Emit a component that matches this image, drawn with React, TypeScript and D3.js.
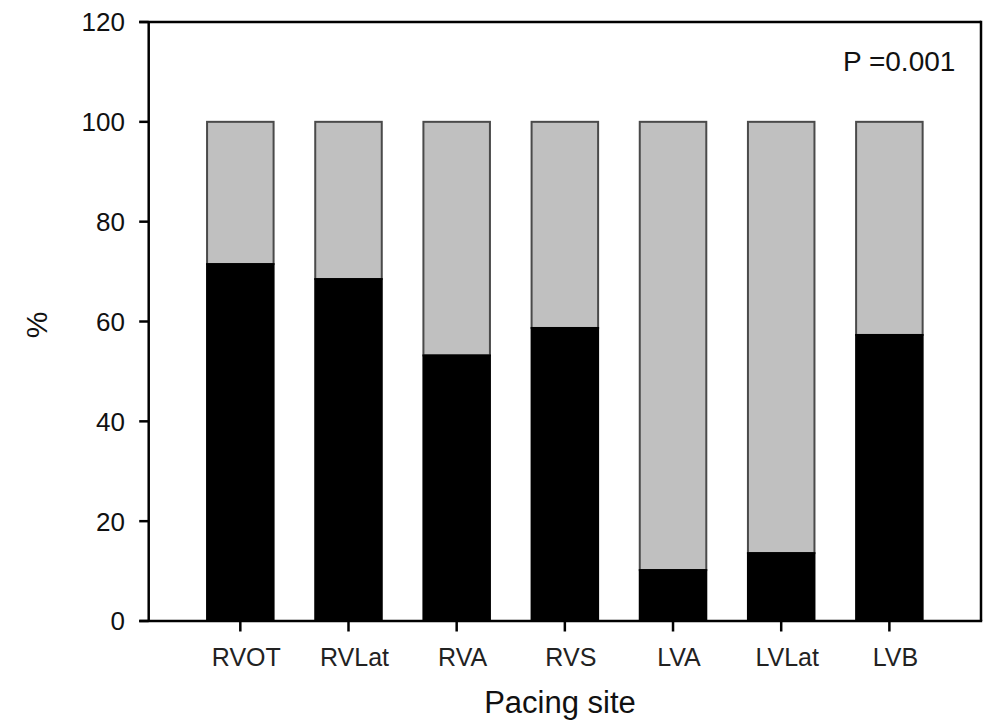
import React from "react";
import * as d3 from "d3";

const categories = ["RVOT", "RVLat", "RVA", "RVS", "LVA", "LVLat", "LVB"];
const blackValues = [71.5, 68.5, 53.2, 58.7, 10.2, 13.6, 57.3];
const totalValues = [100, 100, 100, 100, 100, 100, 100];
const yTicks = [0, 20, 40, 60, 80, 100, 120];
const pText = "P =0.001";
const xTitle = "Pacing site";
const yTitle = "%";

const W = 990;
const H = 720;
const FONT = "'Liberation Sans', Arial, Helvetica, sans-serif";

export default function App() {
  const left = 148.7;
  const right = 981;
  const top = 22;
  const bottom = 621;

  const y = d3.scaleLinear().domain([0, 120]).range([bottom, top]);
  const x = d3.scalePoint<string>().domain(categories).range([left, right]).padding(0.847);
  const barW = x.step() * 0.615;

  return (
    <div style={{ position: "absolute", left: 0, top: 0 }}>
      <svg width={W} height={H} style={{ display: "block", background: "#fff" }}>
        {/* bars */}
        {categories.map((c, i) => {
          const cx = x(c) as number;
          return (
            <g key={c}>
              <rect
                x={cx - barW / 2}
                y={y(totalValues[i])}
                width={barW}
                height={y(blackValues[i]) - y(totalValues[i])}
                fill="#c0c0c0"
                stroke="#4a4a4a"
                strokeWidth={2}
              />
              <rect
                x={cx - barW / 2}
                y={y(blackValues[i])}
                width={barW}
                height={y(0) - y(blackValues[i])}
                fill="#000"
                stroke="#000"
                strokeWidth={2}
              />
            </g>
          );
        })}

        {/* frame */}
        <line x1={left} x2={left} y1={top} y2={bottom} stroke="#000" strokeWidth={2.5} />
        <line x1={left - 9.5} x2={right} y1={top} y2={top} stroke="#000" strokeWidth={2.5} />
        <line x1={right} x2={right} y1={top - 1.2} y2={bottom} stroke="#000" strokeWidth={2.5} />
        <line x1={left - 9.5} x2={right + 1.2} y1={bottom} y2={bottom} stroke="#000" strokeWidth={2.5} />

        {/* y ticks */}
        {yTicks.map((t) => (
          <g key={t}>
            <line x1={left - 9.5} x2={left} y1={y(t)} y2={y(t)} stroke="#000" strokeWidth={2.5} />
            <text
              x={125}
              y={y(t)}
              dy="0.36em"
              textAnchor="end"
              fontFamily={FONT}
              fontSize={26}
              fill="#111"
            >
              {t}
            </text>
          </g>
        ))}

        {/* x ticks */}
        {categories.map((c) => (
          <g key={c}>
            <line x1={x(c)} x2={x(c)} y1={bottom} y2={bottom + 10.5} stroke="#000" strokeWidth={2.5} />
            <text
              x={(x(c) as number) + 6}
              y={666}
              textAnchor="middle"
              fontFamily={FONT}
              fontSize={25}
              fill="#222"
            >
              {c}
            </text>
          </g>
        ))}

        {/* annotation */}
        <text x={843} y={71} fontFamily={FONT} fontSize={28} fill="#111">
          {pText}
        </text>

        {/* axis titles */}
        <text x={560} y={713} textAnchor="middle" fontFamily={FONT} fontSize={31} fill="#111">
          {xTitle}
        </text>
        <text
          transform="translate(47,325) rotate(-90)"
          textAnchor="middle"
          fontFamily={FONT}
          fontSize={30}
          fill="#111"
        >
          {yTitle}
        </text>
      </svg>
    </div>
  );
}
